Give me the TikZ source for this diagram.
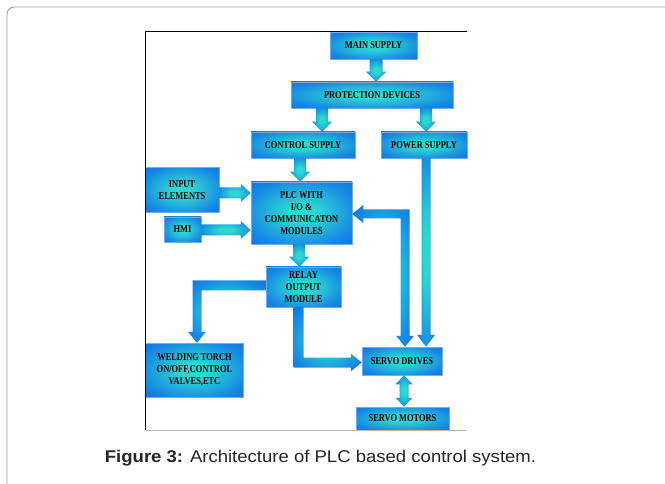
\documentclass[tikz,border=0pt]{standalone}
\usepackage{fontspec}
\newfontfamily\bxfont[FakeStretch=0.8]{Liberation Serif}
\newfontfamily\capfont{Liberation Sans}
\usetikzlibrary{calc}
\definecolor{bxC}{RGB}{45,215,210}
\definecolor{bxM}{RGB}{22,135,228}
\definecolor{bxE}{RGB}{10,85,208}
\definecolor{bxB}{RGB}{120,170,235}
\pgfdeclareradialshading{bx}{\pgfpoint{0bp}{0bp}}{color(0bp)=(bxC); color(7bp)=(bxC); color(28bp)=(bxM); color(50bp)=(bxE); color(75bp)=(bxE)}
\tikzset{
  box/.style={shade, shading=bx, draw=bxB, line width=0.5pt, align=center,
    font=\bxfont\bfseries\fontsize{10.5}{12}\selectfont, text=black, inner sep=0pt},
  arr/.style={shade, shading=bx, draw=none}
}
% straight block arrow: #1 start, #2 tip, #3 shaft half width, #4 head half width, #5 head length
\newcommand\barrow[5]{%
  \path ($(#2)!#5!(#1)$) coordinate (hb);
  \shade[arr] ($(#1)!#3!90:(#2)$) -- ($(hb)!#3!90:(#2)$) -- ($(hb)!#4!90:(#2)$) -- (#2)
    -- ($(hb)!#4!-90:(#2)$) -- ($(hb)!#3!-90:(#2)$) -- ($(#1)!#3!-90:(#2)$) -- cycle;}
% double-headed block arrow
\newcommand\dbarrow[5]{%
  \path ($(#2)!#5!(#1)$) coordinate (hb) ($(#1)!#5!(#2)$) coordinate (ha);
  \shade[arr] (#1) -- ($(ha)!#4!90:(#2)$) -- ($(ha)!#3!90:(#2)$) -- ($(hb)!#3!90:(#2)$)
    -- ($(hb)!#4!90:(#2)$) -- (#2) -- ($(hb)!#4!-90:(#2)$) -- ($(hb)!#3!-90:(#2)$)
    -- ($(ha)!#3!-90:(#2)$) -- ($(ha)!#4!-90:(#2)$) -- cycle;}
\begin{document}
\begin{tikzpicture}[x=1pt,y=-1pt]
\useasboundingbox (0,0) rectangle (665,484);
\fill[white] (0,0) rectangle (665,484);
\begin{scope}
\clip (0,0) rectangle (665,484);
\draw[gray!75, line width=0.9pt, rounded corners=7pt] (7,7) rectangle (700,520);
\end{scope}

% boxes
\node[box, minimum width=87pt, minimum height=27pt] (main) at (373.5,45.5) {MAIN SUPPLY};
\node[box, minimum width=162pt, minimum height=26pt] (prot) at (372,95) {PROTECTION DEVICES};
\node[box, minimum width=104pt, minimum height=26pt] (ctrl) at (303,145) {CONTROL SUPPLY};
\node[box, minimum width=86pt, minimum height=26pt] (power) at (424,145) {POWER SUPPLY};
\node[box, minimum width=74pt, minimum height=45pt] (input) at (182,190) {INPUT\\ELEMENTS};
\node[box, minimum width=37pt, minimum height=25pt] (hmi) at (182.5,229.5) {HMI};
\node[box, minimum width=101pt, minimum height=62pt] (plc) at (301.5,213) {PLC WITH\\I/O \&\\COMMUNICATON\\MODULES};
\node[box, minimum width=75pt, minimum height=40pt] (relay) at (303.5,287) {RELAY\\OUTPUT\\MODULE};
\node[box, minimum width=98pt, minimum height=54pt] (weld) at (194.5,370) {WELDING TORCH\\ON/OFF,CONTROL\\VALVES,ETC};
\node[box, minimum width=80pt, minimum height=28pt] (sd) at (402,361) {SERVO DRIVES};
\node[box, minimum width=93pt, minimum height=23pt] (sm) at (402.5,418.5) {SERVO MOTORS};

% helper positions
\path (376,0) coordinate (X1) (322,0) coordinate (X2) (426,0) coordinate (X3)
      (300,0) coordinate (X4) (299,0) coordinate (X5) (404,0) coordinate (X6)
      (405,0) coordinate (X7) (197,0) coordinate (X8) (298.5,0) coordinate (X9)
      (0,193) coordinate (Y1) (0,230) coordinate (Y2) (0,214) coordinate (Y3)
      (0,285.5) coordinate (Y4) (0,362.5) coordinate (Y5);

\coordinate (a1) at (main.south -| X1);  \coordinate (b1) at (prot.north -| X1);
\coordinate (a2) at (prot.south -| X2);  \coordinate (b2) at (ctrl.north -| X2);
\coordinate (a3) at (prot.south -| X3);  \coordinate (b3) at (power.north -| X3);
\coordinate (a4) at (ctrl.south -| X4);  \coordinate (b4) at (plc.north -| X4);
\coordinate (a5) at (input.east |- Y1);  \coordinate (b5) at (plc.west |- Y1);
\coordinate (a6) at (hmi.east |- Y2);    \coordinate (b6) at (plc.west |- Y2);
\coordinate (a7) at (plc.south -| X5);   \coordinate (b7) at (relay.north -| X5);
\coordinate (a8) at (power.south -| X3); \coordinate (b8) at (sd.north -| X3);
\coordinate (a9) at (sd.south -| X6);    \coordinate (b9) at (sm.north -| X6);

\barrow{a1}{b1}{6.5pt}{10pt}{10pt}
\barrow{a2}{b2}{6pt}{10pt}{10pt}
\barrow{a3}{b3}{6pt}{10pt}{10pt}
\barrow{a4}{b4}{6pt}{10pt}{10pt}
\barrow{a5}{b5}{5.5pt}{9pt}{10pt}
\barrow{a6}{b6}{5.5pt}{9pt}{10pt}
\barrow{a7}{b7}{6pt}{10pt}{10pt}
\barrow{a8}{b8}{4.5pt}{9pt}{12pt}
\dbarrow{a9}{b9}{4.5pt}{8.5pt}{9pt}

% feedback PLC <-> servo drives
\coordinate (t1) at (plc.east |- Y3);
\coordinate (t2) at (sd.north -| X7);
\coordinate (c1) at (X7 |- Y3);
\shade[arr] (t1) -- ($(t1)+(11,-9)$) -- ($(t1)+(11,-4.5)$) -- ($(c1)+(4.5,-4.5)$)
  -- ($(t2)+(4.5,-11)$) -- ($(t2)+(9,-11)$) -- (t2) -- ($(t2)+(-9,-11)$)
  -- ($(t2)+(-4.5,-11)$) -- ($(c1)+(-4.5,4.5)$) -- ($(t1)+(11,4.5)$) -- ($(t1)+(11,9)$) -- cycle;

% relay -> welding
\coordinate (s3) at (relay.west |- Y4);
\coordinate (c3) at (X8 |- Y4);
\coordinate (t3) at (weld.north -| X8);
\shade[arr] ($(s3)+(0,-5)$) -- ($(c3)+(-4.5,-5)$) -- ($(t3)+(-4.5,-11)$) -- ($(t3)+(-9,-11)$)
  -- (t3) -- ($(t3)+(9,-11)$) -- ($(t3)+(4.5,-11)$) -- ($(c3)+(4.5,5)$) -- ($(s3)+(0,5)$) -- cycle;

% relay -> servo drives
\coordinate (s4) at (relay.south -| X9);
\coordinate (c4) at (X9 |- Y5);
\coordinate (t4) at (sd.west |- Y5);
\shade[arr] ($(s4)+(-5,0)$) -- ($(c4)+(-5,5)$) -- ($(t4)+(-11,5)$) -- ($(t4)+(-11,9)$)
  -- (t4) -- ($(t4)+(-11,-9)$) -- ($(t4)+(-11,-5)$) -- ($(c4)+(5,-5)$) -- ($(s4)+(5,0)$) -- cycle;

% figure frame
\coordinate (fbl) at (145.5,430);
\coordinate (ftl) at (145.5,32);
\coordinate (ftr) at (467,32);
\coordinate (fbr) at (467,430);
\draw[gray!55, line width=0.8pt] (fbl) -- (fbr);
\draw[black, line width=1pt] (fbl) -- (ftl) -- (ftr);

% caption
\node[anchor=base, text=black!85, inner sep=0pt] (cap) at (320.5,462)
  {\scalebox{1.09}[1]{\capfont\fontsize{17}{20}\selectfont\textbf{Figure 3:} Architecture of PLC based control system.}};
\end{tikzpicture}
\end{document}
